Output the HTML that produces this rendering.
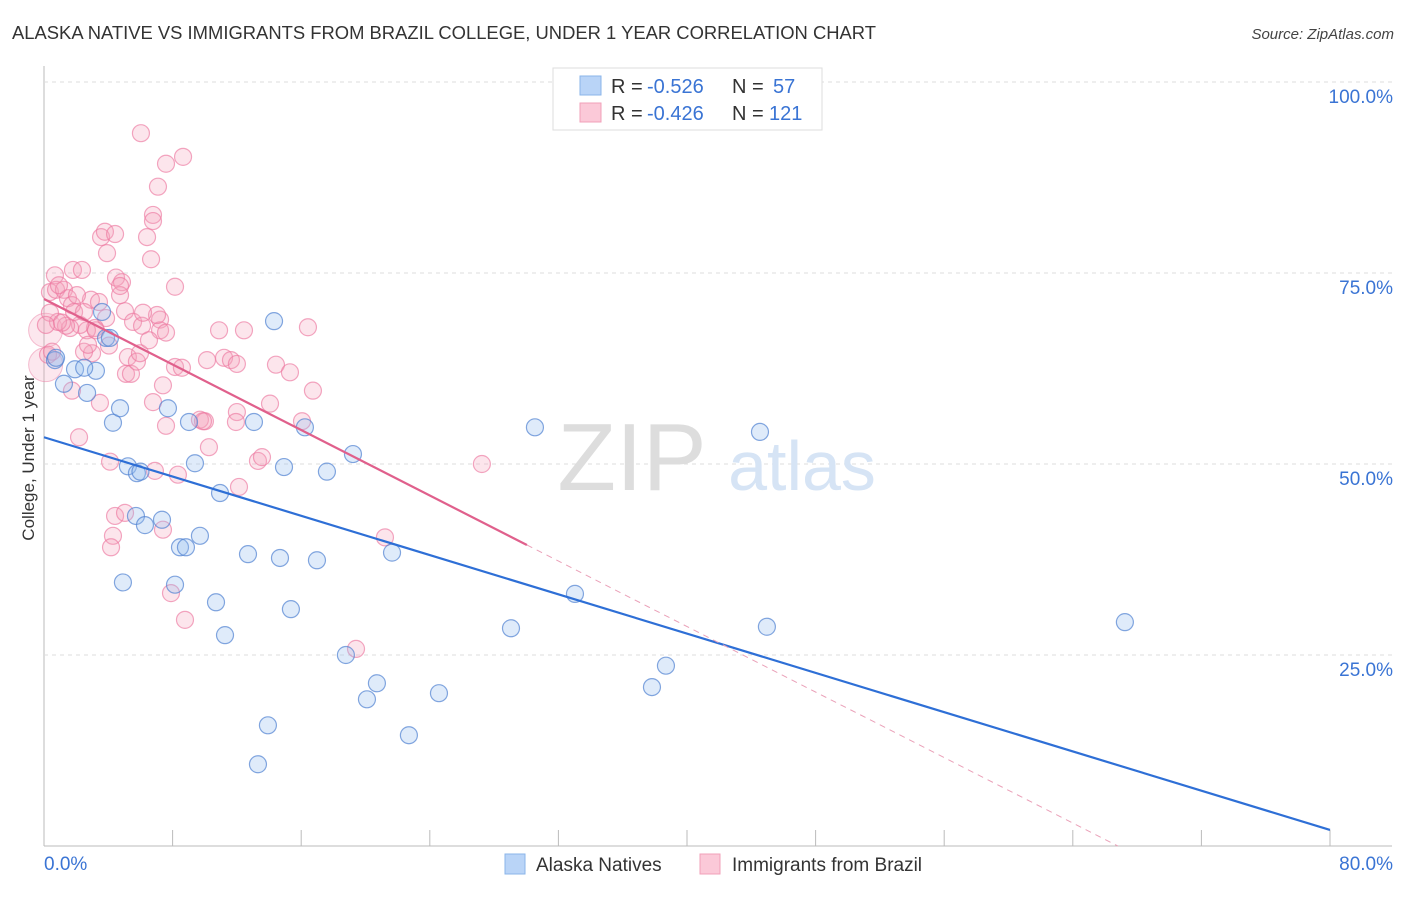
<!DOCTYPE html>
<html><head><meta charset="utf-8"><style>
body{margin:0;background:#fff;font-family:"Liberation Sans",sans-serif;}
svg text{font-family:"Liberation Sans",sans-serif;}
</style></head><body>
<svg id="chart" width="1406" height="892" xmlns="http://www.w3.org/2000/svg">
<text x="12" y="39" font-size="18" fill="#333" textLength="864" lengthAdjust="spacingAndGlyphs">ALASKA NATIVE VS IMMIGRANTS FROM BRAZIL COLLEGE, UNDER 1 YEAR CORRELATION CHART</text>
<text x="1394" y="39" font-size="15" fill="#444" text-anchor="end" font-style="italic">Source: ZipAtlas.com</text>
<g id="grid"></g>
<g>
<text x="632" y="490" font-size="96" fill="#ddd" text-anchor="middle" font-family="Liberation Serif">ZIP</text>
<text x="802" y="490" font-size="70" fill="#d6e4f5" text-anchor="middle">atlas</text>
</g>
<g id="pts"></g>
<g id="lines"></g>
<text transform="translate(34,458) rotate(-90)" font-size="17" fill="#333" text-anchor="middle">College, Under 1 year</text>
<g>
<rect x="553" y="68" width="269" height="62" fill="#fff" stroke="#ddd"/>
<rect x="580" y="76" width="21" height="19" fill="#b9d4f7" stroke="#8ab4ea"/>
<rect x="580" y="103" width="21" height="19" fill="#fbc9d8" stroke="#f2a0b9"/>
<text x="611" y="93" font-size="20" fill="#333">R =</text>
<text x="647" y="93" font-size="20" fill="#3a74d4">-0.526</text>
<text x="732" y="93" font-size="20" fill="#333">N =</text>
<text x="773" y="93" font-size="20" fill="#3a74d4">57</text>
<text x="611" y="120" font-size="20" fill="#333">R =</text>
<text x="647" y="120" font-size="20" fill="#3a74d4">-0.426</text>
<text x="732" y="120" font-size="20" fill="#333">N =</text>
<text x="769" y="120" font-size="20" fill="#3a74d4">121</text>
</g>
<g>
<rect x="505" y="854" width="20" height="20" fill="#b9d4f7" stroke="#8ab4ea"/>
<text x="536" y="871" font-size="19" fill="#333">Alaska Natives</text>
<rect x="700" y="854" width="20" height="20" fill="#fbc9d8" stroke="#f2a0b9"/>
<text x="732" y="871" font-size="19" fill="#333">Immigrants from Brazil</text>
</g>
</svg>
<script>
const xTickVals=[0,8,16,24,32,40,48,56,64,72,80];
const yTickVals=[25,50,75,100];
const yTickLabels=["25.0%","50.0%","75.0%","100.0%"];
const xEndLabels=["0.0%","80.0%"];
const blueX=[0.68,1.24,1.93,2.68,3.23,3.61,3.86,4.29,4.73,5.22,5.78,5.72,6.28,4.91,7.34,7.71,8.15,8.46,8.83,9.02,9.39,9.70,10.70,10.95,11.26,12.69,13.06,13.93,13.31,14.31,14.68,14.93,15.36,16.23,16.98,17.60,18.78,19.22,20.09,20.71,21.65,22.70,24.57,29.05,30.54,33.03,37.82,38.69,44.54,44.97,67.24,0.75,4.1,2.5,6.0];
const blueY=[63.6,60.5,62.4,59.3,62.2,69.9,66.5,55.4,57.3,49.7,48.8,43.2,42.0,34.5,42.7,57.3,34.2,39.1,39.1,55.5,50.1,40.6,31.9,46.2,27.6,38.2,55.5,15.8,10.7,68.7,37.7,49.6,31.0,54.8,37.4,49.0,25.0,51.3,19.2,21.3,38.4,14.5,20.0,28.5,54.8,33.0,20.8,23.6,54.2,28.7,29.3,63.9,66.5,62.6,49.0];
const pinkX=[6.03,7.59,8.65,7.09,6.78,6.78,6.41,6.66,3.55,3.79,4.42,3.92,4.48,1.80,2.36,0.68,0.37,0.75,1.24,1.49,1.74,2.92,3.42,4.85,4.73,5.04,5.54,6.10,7.22,7.22,7.59,8.15,7.03,6.78,7.40,5.22,5.10,5.41,5.78,5.97,3.86,3.17,2.67,2.24,1.62,1.37,0.87,0.37,0.12,0.25,2.99,2.49,3.48,4.11,4.42,4.29,4.17,5.04,6.90,8.33,7.59,8.15,9.70,10.01,10.26,10.89,11.20,11.63,12.00,12.00,11.94,12.13,12.44,13.31,13.56,14.06,14.43,15.30,16.05,16.42,16.73,21.21,19.41,8.77,7.90,7.40,2.18,1.74,0.50,1.12,1.87,2.49,3.23,9.89,8.58,10.14,6.53,6.16,4.73,27.24,4.04,2.74,0.93,2.05];
const pinkY=[93.3,89.3,90.2,86.3,82.6,81.8,79.7,76.8,79.7,80.4,80.1,77.6,74.4,75.4,75.4,74.7,72.5,72.8,72.8,71.7,70.8,71.5,71.2,73.8,72.1,70.0,68.6,68.1,68.9,67.5,67.2,73.2,69.5,58.1,60.3,64.0,61.8,61.8,63.4,64.5,69.1,67.8,67.5,68.2,67.8,68.1,68.6,69.8,68.2,64.3,64.5,64.7,58.0,50.3,43.2,40.6,39.1,43.6,49.1,48.6,55.0,62.7,55.8,55.6,52.2,67.5,63.9,63.6,63.1,56.8,55.5,47.0,67.5,50.4,50.9,57.9,63.0,62.0,55.6,67.9,59.6,40.4,25.8,29.6,33.1,41.4,53.5,59.6,64.7,68.5,69.9,69.9,67.5,55.6,62.6,63.6,66.2,69.8,73.3,50.0,65.5,65.6,73.4,72.1];
const bigX=[0.1,0.1];
const bigY=[67.5,63.0];
const blueTrend=[[0,53.5],[80,2.1]];
const pinkTrend=[[0,71.6],[30.04,39.4]];
const pinkDash=[[30.04,39.4],[66.8,0]];
const X0=44,X1=1330,Y0=846,Y1=82;
const sx=v=>X0+(v/80)*(X1-X0);
const sy=v=>Y0-(v/100)*(Y0-Y1);
const NS="http://www.w3.org/2000/svg";
function mk(tag,attrs,parent){const e=document.createElementNS(NS,tag);for(const k in attrs)e.setAttribute(k,attrs[k]);parent.appendChild(e);return e;}
const grid=document.getElementById('grid');
mk('line',{x1:X0,y1:66,x2:X0,y2:Y0,stroke:'#bbb'},grid);
mk('line',{x1:X0,y1:Y0,x2:1392,y2:Y0,stroke:'#bbb'},grid);
yTickVals.forEach((v,i)=>{
 const l=mk('line',{x1:X0,y1:sy(v),x2:1392,y2:sy(v),stroke:'#ddd','stroke-dasharray':'4,4'},grid);
 
 
 const t=mk('text',{x:1393,y:sy(v)+21,'font-size':19,fill:'#3a74d4','text-anchor':'end'},grid);
 t.textContent=yTickLabels[i];
 
 
});
xTickVals.forEach(v=>{
 const l=mk('line',{x1:sx(v),y1:Y0,x2:sx(v),y2:Y0-16,stroke:'#bbb'},grid);
 
 
});
const t0=mk('text',{x:44,y:870,'font-size':19,fill:'#3a74d4'},grid);t0.textContent=xEndLabels[0];


const t1=mk('text',{x:1393,y:870,'font-size':19,fill:'#3a74d4','text-anchor':'end'},grid);t1.textContent=xEndLabels[1];


const pts=document.getElementById('pts');
bigX.forEach((v,i)=>{
 const c=mk('circle',{cx:sx(v),cy:sy(bigY[i]),r:17,fill:'rgba(244,160,188,0.25)',stroke:'rgba(236,130,165,0.5)'},pts);
 
 
});
pinkX.forEach((v,i)=>{
 const c=mk('circle',{cx:sx(v),cy:sy(pinkY[i]),r:8.5,fill:'rgba(244,160,188,0.28)',stroke:'rgba(236,120,160,0.65)','stroke-width':1.2},pts);
 
 
});
blueX.forEach((v,i)=>{
 const c=mk('circle',{cx:sx(v),cy:sy(blueY[i]),r:8.5,fill:'rgba(150,190,240,0.3)',stroke:'rgba(80,130,210,0.7)','stroke-width':1.2},pts);
 
 
});
const lines=document.getElementById('lines');
const bl=mk('line',{x1:sx(blueTrend[0][0]),y1:sy(blueTrend[0][1]),x2:sx(blueTrend[1][0]),y2:sy(blueTrend[1][1]),stroke:'#2e6fd6','stroke-width':2.2},lines);


const pl=mk('line',{x1:sx(pinkTrend[0][0]),y1:sy(pinkTrend[0][1]),x2:sx(pinkTrend[1][0]),y2:sy(pinkTrend[1][1]),stroke:'#e0608c','stroke-width':2.2},lines);


const pd=mk('line',{x1:sx(pinkDash[0][0]),y1:sy(pinkDash[0][1]),x2:sx(pinkDash[1][0]),y2:sy(pinkDash[1][1]),stroke:'#eaa0b8','stroke-width':1,'stroke-dasharray':'6,5'},lines);


</script>
</body></html>
